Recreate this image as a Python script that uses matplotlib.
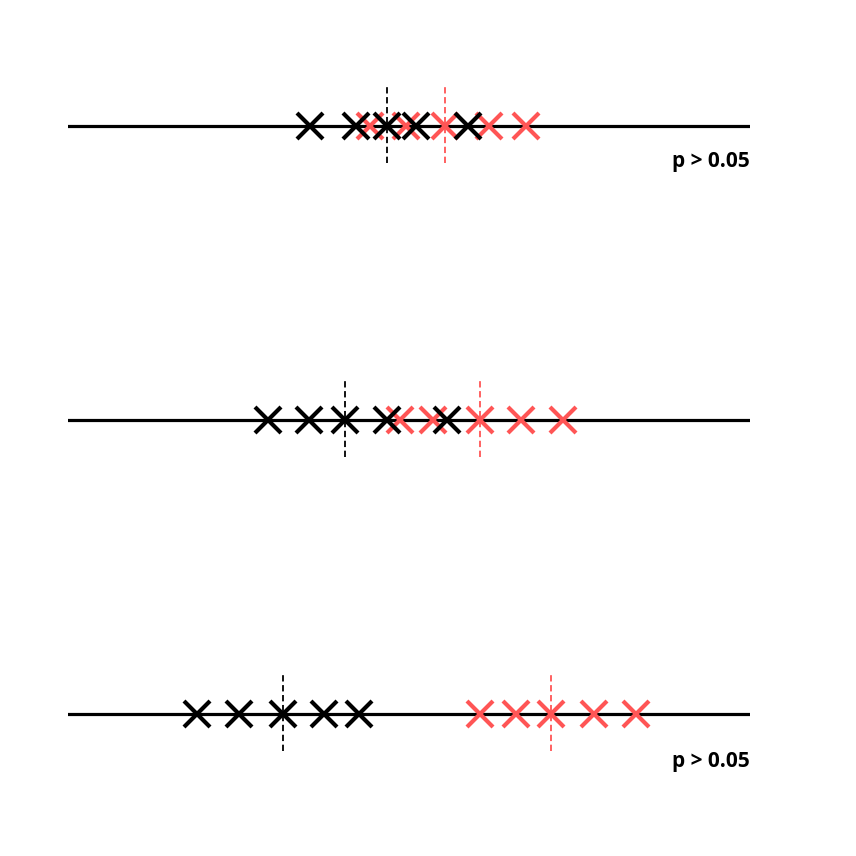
import numpy as np
import matplotlib.pyplot as plt

# positions of the two groups on each row (0..100 along the line)
row1_black = [35.5, 42.2, 46.8, 51.0, 58.7]
row1_red = [44.3, 49.6, 55.3, 61.7, 67.2]
row2_black = [29.3, 35.3, 40.6, 46.8, 55.6]
row2_red = [48.7, 53.5, 60.4, 66.4, 72.6]
row3_black = [18.9, 25.1, 31.5, 37.5, 42.7]
row3_red = [60.4, 65.7, 70.8, 77.1, 83.3]
labels = ["p > 0.05", "", "p > 0.05"]

rows = [(row1_black, row1_red), (row2_black, row2_red), (row3_black, row3_red)]
red = "#ff5555"

W = 856.0
fig = plt.figure(figsize=(8.56, 8.56), dpi=100)
centers = [126, 420, 714]
label_y = [-0.355, -0.4, -0.475]

for (blk, rd), label, c, ly in zip(rows, labels, centers, label_y):
    ax = fig.add_axes([68 / W, 1 - (c + 100) / W, 682 / W, 200 / W])
    ax.set_xlim(0, 100)
    ax.set_ylim(-1, 1)
    ax.axis("off")
    ax.axhline(0, color="black", lw=2.3, zorder=1)
    ax.plot(blk, np.zeros(len(blk)), "x", color="black", ms=19, mew=3, zorder=3)
    ax.plot(rd, np.zeros(len(rd)), "x", color=red, ms=19, mew=3, zorder=2)
    ax.vlines(np.median(blk), -0.37, 0.4, color="black", lw=1.3,
              linestyles=(0, (3.5, 2)), zorder=4)
    ax.vlines(np.median(rd), -0.37, 0.4, color=red, lw=1.3,
              linestyles=(0, (3.5, 2)), zorder=4)
    if label:
        ax.text(100, ly, label, ha="right", va="center", fontsize=15,
                fontweight="bold", family=["Open Sans", "DejaVu Sans"])

fig.savefig("out.png", dpi=100)
